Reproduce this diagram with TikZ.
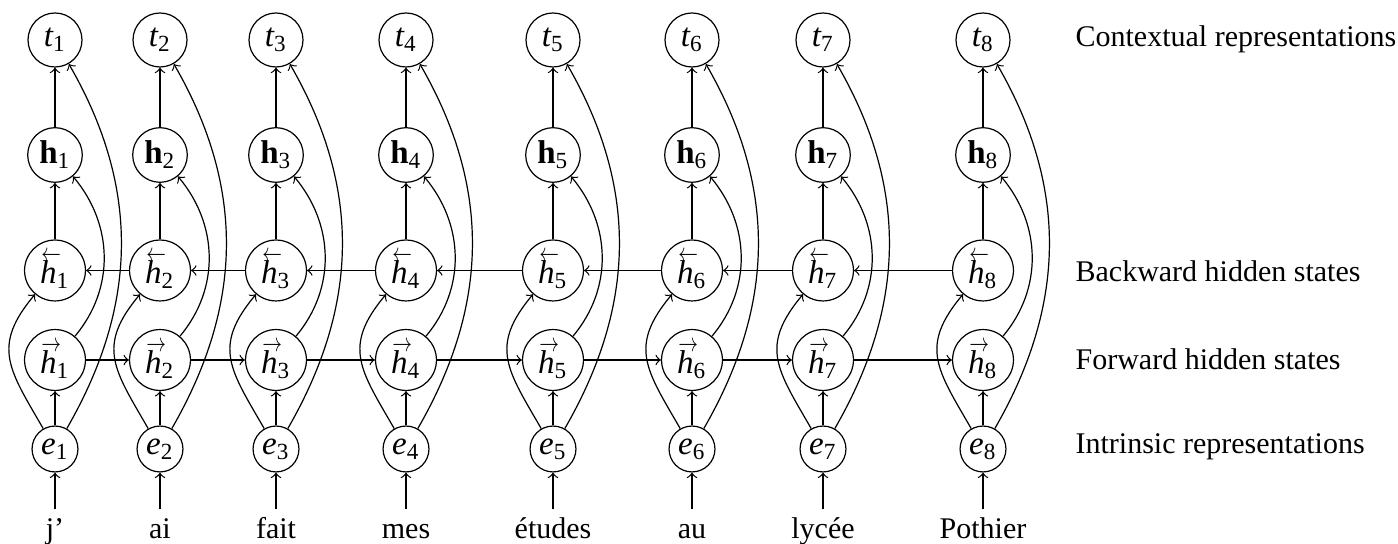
\documentclass[tikz,border=0pt]{standalone}
\usepackage{fontspec}
\usepackage{graphicx}
\setmainfont{Liberation Serif}
\newcommand\arrh[1]{\leavevmode\vbox{\offinterlineskip\halign{##\cr
  \makebox[0pt][l]{\hspace{0.4pt}\scalebox{0.6}[0.8]{$#1$}}\cr\noalign{\kern-0.2pt}\textit{h}\cr}}}
\begin{document}
\begin{tikzpicture}[x=0.33333pt, y=0.33333pt]
\tikzset{
  tnode/.style={circle, draw, line width=0.4pt, inner sep=0pt, minimum size=18pt, font=\fontsize{11}{13}\selectfont},
  hnode/.style={circle, draw, line width=0.4pt, inner sep=0pt, minimum size=18.2pt, font=\fontsize{11}{13}\selectfont},
  binode/.style={circle, draw, line width=0.4pt, inner sep=0pt, minimum size=20.3pt, font=\fontsize{11}{13}\selectfont},
  enode/.style={circle, draw, line width=0.4pt, inner sep=0pt, minimum size=15.3pt, font=\fontsize{11}{13}\selectfont},
  word/.style={anchor=base, inner sep=0pt, text height=9.67pt, text depth=2pt},
  lab/.style={anchor=base west, inner sep=0pt},
  conn/.style={->, line width=0.4pt}
}
\useasboundingbox (0,0) rectangle (1398,544);

\foreach \i/\x/\w in {1/55/j’,2/160/ai,3/276/fait,4/406/mes,5/553/études,6/692/au,7/823/lycée,8/983/Pothier}{
  \node[word] (w\i) at (\x,5) {\w};
  \node[enode] (e\i) at (\x,95) {{\itshape e}\textsubscript{\i}};
  \node[binode] (f\i) at (\x,184) {\arrh{\rightarrow}\textsubscript{\i}};
  \node[binode] (b\i) at (\x,273.5) {\arrh{\leftarrow}\textsubscript{\i}};
  \node[hnode] (h\i) at (\x,389) {{\bfseries h}\textsubscript{\i}};
  \node[tnode] (t\i) at (\x,504) {{\itshape t}\textsubscript{\i}};
  \draw[conn] (w\i) -- (e\i);
  \draw[conn] (e\i) -- (f\i);
  \draw[conn] (e\i) to[out=120,in=230,looseness=1.3] (b\i);
  \draw[conn] (f\i) to[out=50,in=-50] (h\i);
  \draw[conn] (e\i) to[out=60,in=-60] (t\i);
  \draw[conn] (b\i) -- (h\i);
  \draw[conn] (h\i) -- (t\i);
}
\foreach \i [count=\j from 2] in {1,...,7}{
  \draw[conn] (f\i) -- (f\j);
  \draw[conn] (b\j) -- (b\i);
}

\node[lab] (lt) at (1075,497.3) {Contextual representations};
\node[lab] (lb) at (1075,262.3) {Backward hidden states};
\node[lab] (lf) at (1075,174) {Forward hidden states};
\node[lab] (le) at (1075,90.7) {Intrinsic representations};
\end{tikzpicture}
\end{document}
